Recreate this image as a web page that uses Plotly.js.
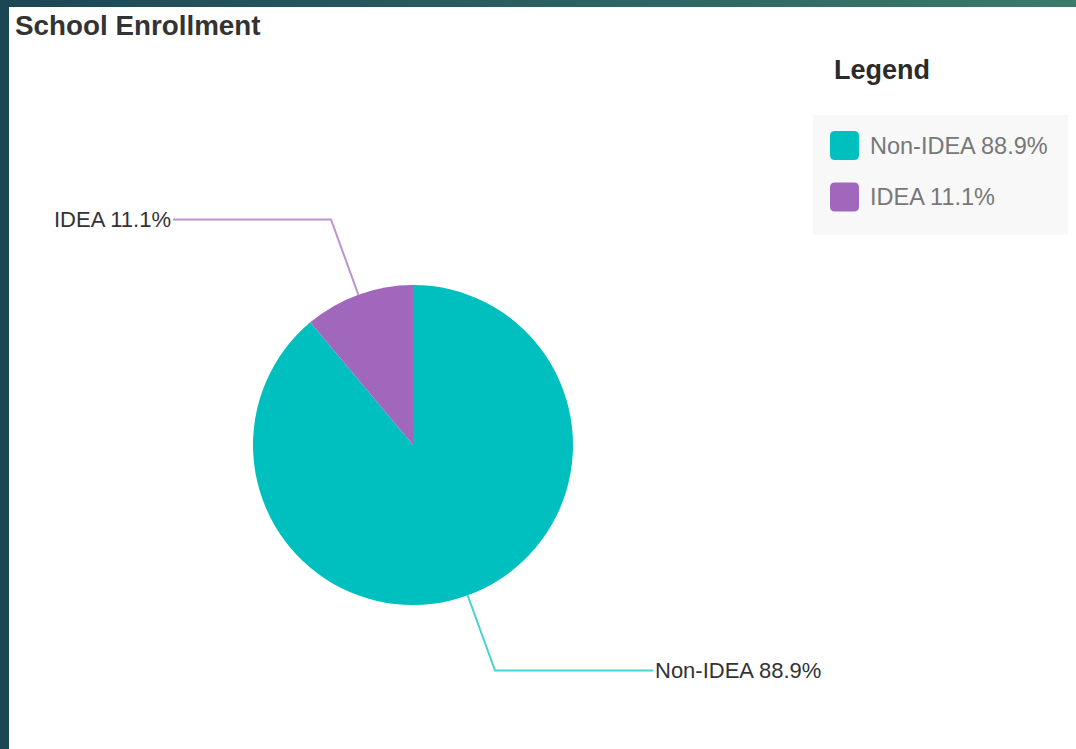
<!DOCTYPE html>
<html><head><meta charset="utf-8">
<script src="https://cdn.plot.ly/plotly-3.0.1.min.js"></script>
<style>
html,body{margin:0;padding:0;width:1076px;height:749px;overflow:hidden;background:linear-gradient(90deg,#1b4755 0%,#2b5f62 50%,#3c7a6c 100%);}
#chart{position:absolute;left:9px;top:7px;width:1067px;height:742px;background:#fff;}
</style></head><body><div id="chart"></div>
<script>
// ---- data ----
const categories = ['Non-IDEA', 'IDEA'];
const values = [88.9, 11.1];
const sliceColors = ['#00bfbf', '#a067bd'];
const chartTitle = 'School Enrollment';
const legendTitle = 'Legend';

// ---- layout geometry (pixels inside the chart div) ----
const W = 1067, H = 742;
const cx = 404, cy = 438, R = 160;
const leaderOut = 80, leaderHoriz = 158;

const labels = categories.map((c, i) => c + ' ' + values[i].toFixed(1) + '%');
const total = values.reduce((a, b) => a + b, 0);

const shapes = [];
const annotations = [];

// leader lines + outside labels, derived from the values
let cum = 0;
values.forEach((v, i) => {
  const mid = (cum + v / 2) / total * 2 * Math.PI; // clockwise from 12 o'clock
  cum += v;
  const sx = cx + R * Math.sin(mid), sy = cy - R * Math.cos(mid);
  const ex = cx + (R + leaderOut) * Math.sin(mid), ey = cy - (R + leaderOut) * Math.cos(mid);
  const dir = Math.sin(mid) >= 0 ? 1 : -1;
  const lx = ex + dir * leaderHoriz;
  shapes.push({type: 'path', xref: 'x', yref: 'y',
    path: `M${sx},${sy}L${ex},${ey}L${lx},${ey}`,
    line: {color: sliceColors[i], width: 2}, opacity: 0.7});
  annotations.push({xref: 'x', yref: 'y', x: lx, y: ey, text: labels[i],
    showarrow: false, xanchor: dir > 0 ? 'left' : 'right', yanchor: 'middle',
    font: {family: 'Arial, Liberation Sans', size: 22, color: '#333'}});
});

// custom legend
annotations.push({xref: 'x', yref: 'y', x: 823, y: 63, text: legendTitle, showarrow: false,
  xanchor: 'left', yanchor: 'middle',
  font: {family: 'Arial, Liberation Sans', size: 27, color: '#2b2b2b', weight: 700}});
shapes.push({type: 'rect', xref: 'x', yref: 'y', x0: 804, y0: 108, x1: 1059, y1: 228,
  fillcolor: '#f8f8f8', line: {width: 0}, layer: 'below'});
categories.forEach((c, i) => {
  const yc = 138.5 + i * 51.5, x0 = 821, s = 29, r = 5;
  const t = yc - s / 2, b = yc + s / 2, l = x0, rr = x0 + s;
  shapes.push({type: 'path', xref: 'x', yref: 'y',
    path: `M${l + r},${t}L${rr - r},${t}Q${rr},${t} ${rr},${t + r}L${rr},${b - r}Q${rr},${b} ${rr - r},${b}L${l + r},${b}Q${l},${b} ${l},${b - r}L${l},${t + r}Q${l},${t} ${l + r},${t}Z`,
    fillcolor: sliceColors[i], line: {width: 0}});
  annotations.push({xref: 'x', yref: 'y', x: 859, y: yc, text: labels[i], showarrow: false,
    xanchor: 'left', yanchor: 'middle',
    font: {family: 'Arial, Liberation Sans', size: 23.5, color: '#777'}});
});

const data = [
  {type: 'pie', labels: categories, values: values, sort: false, direction: 'clockwise',
   rotation: 0, marker: {colors: sliceColors, line: {width: 0}}, textinfo: 'none',
   hoverinfo: 'label+percent', showlegend: false,
   domain: {x: [(cx - R) / W, (cx + R) / W], y: [1 - (cy + R) / H, 1 - (cy - R) / H]}},
  {type: 'scatter', x: [], y: [], showlegend: false, hoverinfo: 'skip'}
];

const layout = {
  width: W, height: H,
  margin: {l: 0, r: 0, t: 0, b: 0},
  paper_bgcolor: '#ffffff', plot_bgcolor: 'rgba(0,0,0,0)',
  showlegend: false,
  title: {text: chartTitle, xref: 'paper', yref: 'paper', x: 6 / W, xanchor: 'left',
          y: 1 - 18 / H, yanchor: 'middle',
          font: {family: 'Arial, Liberation Sans', size: 27.8, color: '#333', weight: 700}},
  xaxis: {range: [0, W], visible: false, fixedrange: true, domain: [0, 1]},
  yaxis: {range: [H, 0], visible: false, fixedrange: true, domain: [0, 1]},
  shapes: shapes,
  annotations: annotations
};

Plotly.newPlot('chart', data, layout, {displayModeBar: false, staticPlot: true});
</script></body></html>
